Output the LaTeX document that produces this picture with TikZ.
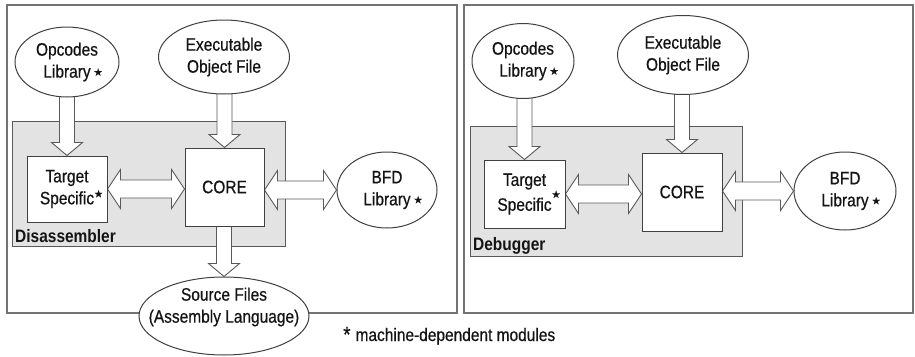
\documentclass[tikz,border=0pt]{standalone}
\usepackage{fontspec}
\setmainfont{Liberation Sans}[FakeStretch=0.86, UprightFeatures={FakeBold=0.6}]
\newfontfamily\symfont{DejaVu Sans}[FakeBold=0.5]
\usetikzlibrary{calc,shapes.geometric}

\pgfdeclarelayer{panel}
\pgfdeclarelayer{arrows}
\pgfsetlayers{panel,arrows,main}

% small star marking machine-dependent modules
\newcommand\mstar{{\symfont\fontsize{10}{10}\selectfont ★}}

% fat block arrow pointing down, from the bottom of #1 to the tip #2
\newcommand\fatdown[2]{%
  \draw[fatarrow] (#2) -- ($(#2)+(-15.5,-13)$) -- ($(#2)+(-7.5,-13)$)
    -- ($(#2|-#1)+(-7.5,-3)$) -- ($(#2|-#1)+(7.5,-3)$)
    -- ($(#2)+(7.5,-13)$) -- ($(#2)+(15.5,-13)$) -- cycle;}

% fat double-headed block arrow between the left tip #1 and the right tip #2
\newcommand\fatboth[2]{%
  \draw[fatarrow] (#1) -- ($(#1)+(13,-19.5)$) -- ($(#1)+(13,-9)$)
    -- ($(#2|-#1)+(-13,-9)$) -- ($(#2|-#1)+(-13,-19.5)$) -- (#2|-#1)
    -- ($(#2|-#1)+(-13,19.5)$) -- ($(#2|-#1)+(-13,9)$)
    -- ($(#1)+(13,9)$) -- ($(#1)+(13,19.5)$) -- cycle;}

\tikzset{
  lbl/.style={font=\fontsize{18}{22}\selectfont, align=center, text=black!92},
  modnode/.style={ellipse, draw=black!75, fill=white, line width=1pt, inner sep=0pt, lbl},
  unitbox/.style={rectangle, draw=black!75, fill=white, line width=1pt, inner sep=0pt, lbl},
  fatarrow/.style={draw=black!65, fill=white, line width=0.9pt, line join=miter},
  panelframe/.style={draw=black!55, line width=1.1pt},
  toolarea/.style={draw=black!65, fill=black!11, line width=1pt},
  toolname/.style={font=\bfseries\fontsize{18}{22}\selectfont, text=black!92, anchor=base west, inner sep=0pt},
}

\begin{document}
\begin{tikzpicture}[x=1pt,y=-1pt]
\useasboundingbox (0,0) rectangle (915,356);

% ---------------- Disassembler ----------------
\node[modnode, minimum width=104pt, minimum height=70pt] (op) at (67,62)
  {Opcodes\\Library\rlap{\,\raisebox{2pt}{\mstar}}};
\node[modnode, minimum width=131pt, minimum height=74pt] (exe) at (224,57)
  {Executable\\Object File};
\node[unitbox, minimum width=80pt, minimum height=66pt] (ts) at (67,189)
  {Target\\Specific\rlap{\raisebox{7pt}{\mstar}}};
\node[unitbox, minimum width=79pt, minimum height=78pt] (core) at (224.5,187) {CORE};
\node[modnode, minimum width=100pt, minimum height=76pt] (bfd) at (387,190)
  {BFD\\Library\rlap{\,\raisebox{2pt}{\mstar}}};
\node[modnode, minimum width=170pt, minimum height=78pt,
  label={[lbl, yshift=9pt]center:Source Files\\(Assembly Language)}] (src) at (224,316) {};
\node[toolname] (disname) at (15,242) {Disassembler};
\coordinate (cb) at (core.east|-bfd.west);

% ---------------- Debugger ----------------
\node[modnode, minimum width=102pt, minimum height=75pt] (op2) at (523,61)
  {Opcodes\\Library\rlap{\,\raisebox{2pt}{\mstar}}};
\node[modnode, minimum width=131pt, minimum height=79pt] (exe2) at (683,55)
  {Executable\\Object File};
\node[unitbox, minimum width=81pt, minimum height=68pt] (ts2) at (524.5,194)
  {Target\\Specific\rlap{\raisebox{13pt}{\mstar}}};
\node[unitbox, minimum width=80pt, minimum height=78pt] (core2) at (682,192) {CORE};
\node[modnode, minimum width=102pt, minimum height=78pt] (bfd2) at (845,191)
  {BFD\\Library\rlap{\,\raisebox{2pt}{\mstar}}};
\node[toolname] (dbgname) at (473,250) {Debugger};
\coordinate (cb2) at (core2.east|-bfd2.west);

% footnote
\node[lbl, anchor=base west, inner sep=0pt] (note) at (343,341)
  {\raisebox{-1pt}{\fontsize{22}{22}\selectfont *}\hspace{5pt}machine-dependent modules};

% frames and shaded tool areas
\begin{pgfonlayer}{panel}
  \draw[panelframe] (7,5) rectangle (457,313);
  \draw[panelframe] (464,5) rectangle (913,313);
  \draw[toolarea] (12,121) rectangle (285,246);
  \draw[toolarea] (470,126) rectangle (742,256);
\end{pgfonlayer}

% block arrows
\begin{pgfonlayer}{arrows}
  \fatdown{op.south}{ts.north}
  \fatdown{exe.south}{core.north}
  \fatdown{core.south}{src.north}
  \fatboth{ts.east}{core.west}
  \fatboth{cb}{bfd.west}
  \fatdown{op2.south}{ts2.north}
  \fatdown{exe2.south}{core2.north}
  \fatboth{ts2.east}{core2.west}
  \fatboth{cb2}{bfd2.west}
\end{pgfonlayer}
\end{tikzpicture}
\end{document}
